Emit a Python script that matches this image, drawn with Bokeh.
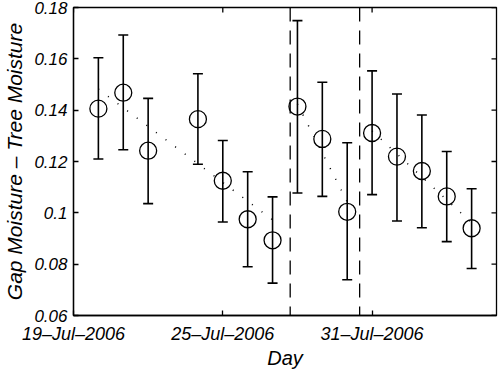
import math
import pandas as pd
from bokeh.plotting import figure
from bokeh.models import (ColumnDataSource, Whisker, TeeHead, Range1d, FixedTicker,
                          DatetimeTickFormatter, Span, CustomJSTickFormatter)
from bokeh.embed import file_html
from bokeh.resources import INLINE

# ---- data ----
dates = ["2006-07-20", "2006-07-21", "2006-07-22", "2006-07-24", "2006-07-25",
         "2006-07-26", "2006-07-27", "2006-07-28", "2006-07-29", "2006-07-30",
         "2006-07-31", "2006-08-01", "2006-08-02", "2006-08-03", "2006-08-04"]
mean_diff = [0.1406, 0.1468, 0.1242, 0.1365, 0.1125, 0.0975, 0.0893, 0.1414,
             0.1288, 0.1004, 0.1311, 0.1219, 0.1163, 0.1064, 0.0940]
upper_err = [0.1604, 0.1693, 0.1446, 0.1542, 0.1282, 0.1160, 0.1062, 0.1749,
             0.1509, 0.1273, 0.1553, 0.1463, 0.1381, 0.1239, 0.1094]
lower_err = [0.1210, 0.1246, 0.1036, 0.1189, 0.0964, 0.0790, 0.0726, 0.1077,
             0.1064, 0.0739, 0.1071, 0.0968, 0.0942, 0.0888, 0.0783]

trend_start_dates = ["2006-07-20", "2006-07-28", "2006-07-31"]
trend_end_dates = ["2006-07-27", "2006-07-30", "2006-08-04"]
trend_start = [0.1482, 0.1424, 0.1319]
trend_end = [0.0973, 0.1043, 0.0961]

break_dates = ["2006-07-27 17:00", "2006-07-30 12:00"]

x_start, x_end = "2006-07-19", "2006-08-05"
x_tick_dates = ["2006-07-19", "2006-07-25", "2006-07-31"]
y_start, y_end = 0.06, 0.18
y_ticks = [0.06, 0.08, 0.10, 0.12, 0.14, 0.16, 0.18]

FONT = "Liberation Sans"


def ms(d):
    return pd.Timestamp(d).value // 10**6


src = ColumnDataSource(dict(x=pd.to_datetime(dates), y=mean_diff,
                            upper=upper_err, lower=lower_err))
trend_src = ColumnDataSource(dict(x0=pd.to_datetime(trend_start_dates),
                                  x1=pd.to_datetime(trend_end_dates),
                                  y0=trend_start, y1=trend_end))

p = figure(width=500, height=371, output_backend="svg", toolbar_location=None,
           x_axis_type="datetime",
           x_range=Range1d(pd.Timestamp(x_start), pd.Timestamp(x_end)),
           y_range=Range1d(y_start, y_end),
           min_border_left=10, min_border_right=4, min_border_top=7,
           min_border_bottom=10)
p.background_fill_color = "white"
p.border_fill_color = "white"
p.grid.visible = False
p.outline_line_color = "black"
p.outline_line_width = 1.3

xticker = FixedTicker(ticks=[ms(d) for d in x_tick_dates])
yticker = FixedTicker(ticks=y_ticks)
fmt = "%d\u2013%b\u2013%Y"
xfmt = DatetimeTickFormatter(days=fmt, months=fmt, years=fmt, hours=fmt,
                             minutes=fmt, seconds=fmt, milliseconds=fmt,
                             minsec=fmt, hourmin=fmt)
yfmt = CustomJSTickFormatter(code="return tick.toFixed(2).replace(/0$/, '');")


def style(ax):
    ax.major_tick_in = 5
    ax.major_tick_out = 0
    ax.minor_tick_line_color = None
    ax.axis_line_color = "black"
    ax.axis_line_width = 1.3
    ax.major_tick_line_color = "black"
    ax.major_tick_line_width = 1.3
    ax.major_label_text_font = FONT
    ax.major_label_text_font_style = "italic"
    ax.major_label_text_font_size = "17px"
    ax.major_label_text_color = "black"
    ax.axis_label_text_font = FONT
    ax.axis_label_text_font_style = "italic"
    ax.axis_label_text_font_size = "20px"
    ax.axis_label_text_color = "black"


xa = p.xaxis[0]
xa.ticker = xticker
xa.formatter = xfmt
xa.axis_label = "Day"
style(xa)
xa.major_label_standoff = 8
xa.axis_label_standoff = 0
xa.major_label_text_font_size = "18px"

ya = p.yaxis[0]
ya.ticker = yticker
ya.formatter = yfmt
ya.axis_label = "Gap Moisture \u2013 Tree Moisture"
style(ya)
ya.major_label_standoff = 6
ya.axis_label_standoff = 5
ya.axis_label_text_font_size = "21px"

# mirrored inward ticks on the top and right frame edges (half clipped by frame)
p.scatter(x=pd.to_datetime(x_tick_dates), y=[y_end] * len(x_tick_dates),
          marker="dash", angle=math.pi / 2, size=10, line_color="black",
          line_width=1.3)
p.scatter(x=[pd.Timestamp(x_end)] * len(y_ticks), y=y_ticks,
          marker="dash", size=10, line_color="black", line_width=1.3)

for d in break_dates:
    p.add_layout(Span(location=ms(d), dimension="height", line_color="black",
                      line_width=1.3, line_dash="14 9"))

p.segment("x0", "y0", "x1", "y1", source=trend_src, line_color="black",
          line_width=1.5, line_dash="1 11")

p.add_layout(Whisker(source=src, base="x", upper="upper", lower="lower",
                     line_color="black", line_width=1.6,
                     upper_head=TeeHead(size=10, line_width=1.6, line_color="black"),
                     lower_head=TeeHead(size=10, line_width=1.6, line_color="black")))

p.scatter("x", "y", source=src, marker="circle", size=17, fill_color=None,
          line_color="black", line_width=1.3)

open("out.html", "w").write(file_html(p, INLINE))
